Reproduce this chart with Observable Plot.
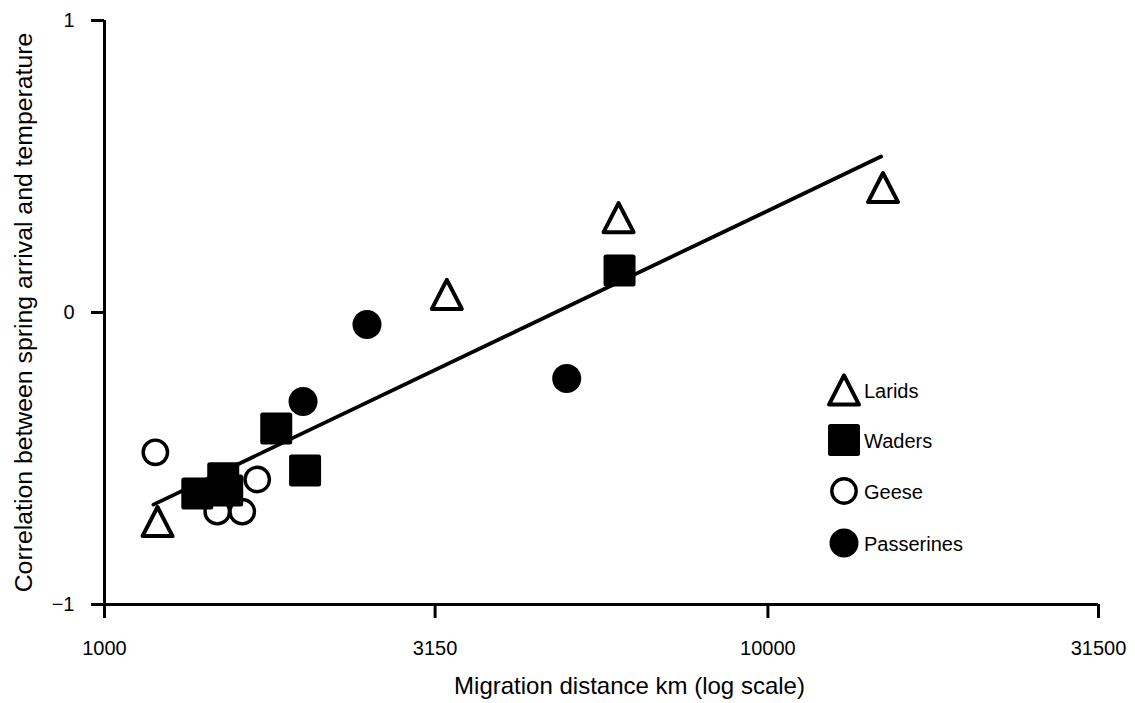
<!DOCTYPE html>
<html><head><meta charset="utf-8">
<script src="https://cdn.jsdelivr.net/npm/d3@7"></script>
<script src="https://cdn.jsdelivr.net/npm/@observablehq/plot@0.6"></script>
<style>
body{margin:0;background:#fff;font-family:"Liberation Sans",Arial,sans-serif;}
#wrap{position:relative;width:1135px;height:703px;overflow:hidden;}
#legend{position:absolute;left:0;top:0;pointer-events:none;}
</style></head><body><div id="wrap"></div>
<script>
// ---- data ----
const groups = ["Larids", "Waders", "Geese", "Passerines"];
const laridsX = [1202, 3281, 5955, 14910];
const laridsY = [-0.716, 0.062, 0.325, 0.428];
const wadersX = [1380, 1510, 1531, 1815, 2006, 5975];
const wadersY = [-0.620, -0.568, -0.610, -0.397, -0.541, 0.144];
const geeseX = [1193, 1479, 1613, 1699];
const geeseY = [-0.479, -0.682, -0.682, -0.572];
const passerinesX = [1992, 2487, 4974];
const passerinesY = [-0.305, -0.041, -0.226];
const fitX = [1185, 14810];
const fitY = [-0.658, 0.534];
const xTicks = [1000, 3150, 10000, 31500];
const yTicks = [-1, 0, 1];
const xTitle = "Migration distance km (log scale)";
const yTitle = "Correlation between spring arrival and temperature";

const pts = (xs, ys) => xs.map((x, i) => ({x, y: ys[i]}));
const larids = pts(laridsX, laridsY);
const waders = pts(wadersX, wadersY);
const geese = pts(geeseX, geeseY);
const passerines = pts(passerinesX, passerinesY);
const fit = pts(fitX, fitY);

// custom symbols (half-width r derived from area like Plot does)
const triSym = {draw(ctx, size) {
  const r = Math.sqrt(size / Math.PI), h = r * 0.97;
  ctx.moveTo(0, -h); ctx.lineTo(r, h); ctx.lineTo(-r, h); ctx.closePath();
}};
const sqSym = {draw(ctx, size) {
  const r = Math.sqrt(size / Math.PI);
  ctx.moveTo(-r, -r); ctx.lineTo(r, -r); ctx.lineTo(r, r); ctx.lineTo(-r, r); ctx.closePath();
}};

const styles = {
  Larids: {symbol: triSym, r: 15, fill: "white", stroke: "black", strokeWidth: 4},
  Waders: {symbol: sqSym, r: 13.5, fill: "black", stroke: "black", strokeWidth: 5},
  Geese: {symbol: "circle", r: 12.2, fill: "white", stroke: "black", strokeWidth: 3.4},
  Passerines: {symbol: "circle", r: 14.5, fill: "black", stroke: "none", strokeWidth: 0}
};

const chart = Plot.plot({
  width: 1135, height: 703,
  marginLeft: 104, marginRight: 37, marginTop: 20, marginBottom: 99,
  style: {fontFamily: "Liberation Sans, Arial, sans-serif", background: "white", color: "black"},
  x: {type: "log", domain: [1000, 31500]},
  y: {domain: [-1, 1]},
  marks: [
    Plot.ruleX([1000], {strokeWidth: 3}),
    Plot.ruleY([-1], {strokeWidth: 3}),
    Plot.axisX({ticks: xTicks, tickFormat: d => String(d), tickSize: 14, tickPadding: 22, fontSize: 20, strokeWidth: 3, label: null}),
    Plot.axisY({ticks: yTicks, tickFormat: d => d < 0 ? "\u2212" + Math.abs(d) : String(d), tickSize: 13, tickPadding: 17, fontSize: 20, strokeWidth: 3, label: null}),
    Plot.line(fit, {x: "x", y: "y", stroke: "black", strokeWidth: 3.8}),
    Plot.dot(geese, {x: "x", y: "y", ...styles.Geese}),
    Plot.dot(larids, {x: "x", y: "y", ...styles.Larids, strokeLinejoin: "round"}),
    Plot.dot(waders, {x: "x", y: "y", ...styles.Waders, strokeLinejoin: "round"}),
    Plot.dot(passerines, {x: "x", y: "y", ...styles.Passerines}),
    Plot.text([xTitle], {text: d => d, frameAnchor: "bottom", textAnchor: "middle", dx: 28, dy: 82, fontSize: 24, lineAnchor: "middle", fill: "black"}),
    Plot.text([yTitle], {text: d => d, frameAnchor: "left", textAnchor: "middle", dx: -80, rotate: -90, fontSize: 24.8, lineAnchor: "middle", fill: "black"})
  ]
});
const wrap = document.getElementById("wrap");
wrap.appendChild(chart);

// legend overlay
const leg = d3.select(wrap).append("svg").attr("id", "legend").attr("width", 1135).attr("height", 703);
const legY = [390, 440, 491, 543];
groups.forEach((g, i) => {
  const s = styles[g];
  const type = s.symbol === "circle" ? d3.symbolCircle : s.symbol;
  const path = d3.symbol(type, Math.PI * s.r * s.r)();
  leg.append("path").attr("d", path).attr("transform", `translate(844,${legY[i]})`)
    .attr("fill", s.fill).attr("stroke", s.stroke).attr("stroke-width", s.strokeWidth)
    .attr("stroke-linejoin", "round");
  leg.append("text").attr("x", 864).attr("y", legY[i] + 1).attr("dy", "0.35em")
    .attr("font-size", 20).attr("font-family", "Liberation Sans, Arial, sans-serif").text(g);
});
</script></body></html>
